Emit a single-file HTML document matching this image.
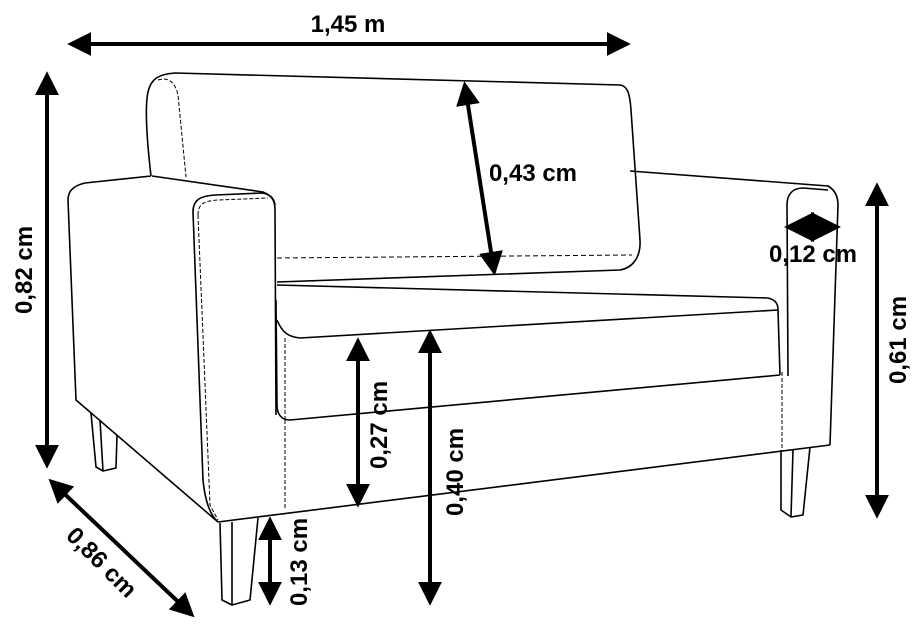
<!DOCTYPE html>
<html><head><meta charset="utf-8"><style>
html,body{margin:0;padding:0;background:#fff}
svg{display:block}
text{font-family:"Liberation Sans",sans-serif;font-size:24px;font-weight:bold;fill:#000}
</style></head><body>
<svg width="920" height="640" viewBox="0 0 920 640" xmlns="http://www.w3.org/2000/svg">
<defs>
<marker id="a" viewBox="0 0 10 10" refX="8" refY="5" markerWidth="6" markerHeight="6" orient="auto-start-reverse"><path d="M0,0 L10,5 L0,10 Z" fill="#000"/></marker>
</defs>
<g fill="none" stroke="#000" stroke-width="1.6" stroke-linejoin="round">
<path d="M151,176 C148,150 144,110 148,92 C151,78 160,74 175,73 L620,85 C628,86 630,95 631,110 L640,240 C641,258 632,268 620,270 L277,282"/>
<path d="M158,80 C170,76 176,85 178,95 L186,177" stroke-dasharray="4,2" stroke-width="1"/>
<path d="M277,258 L632,255" stroke-dasharray="5,3" stroke-width="1"/>
<path d="M151,176 L85,183 C72,186 68,192 68,200 L76,400 L218,522"/>
<path d="M152,176 L263,192 C272,196 275,200 275,210 L276,415"/>
<path d="M193,212 C193,200 200,196 215,195 L262,193 C270,194 274,198 275,205"/>
<path d="M193,212 L203,480 C205,500 210,515 218,522" />
<path d="M198,215 C198,203 205,201 218,200 L268,198" stroke-dasharray="4,2" stroke-width="1"/>
<path d="M198,215 L210,505 L218,520" stroke-dasharray="4,2" stroke-width="1"/>
<path d="M277,285 L768,298 C776,300 778,304 778,310 L780,375"/>
<path d="M277,320 C282,332 288,337 300,338 L778,310"/>
<path d="M276,300 L277,405 C277,415 282,420 290,420 L780,375"/>
<path d="M285,338 L285,420 M285,420 L285,510" stroke-dasharray="4,2" stroke-width="1"/>
<path d="M218,522 L830,445"/>
<path d="M782,372 L782,452" stroke-dasharray="4,2" stroke-width="1"/>
<path d="M630,171 L828,186 C835,190 838,196 838,205 L830,445"/>
<path d="M788,376 L787,205 C787,195 792,188 803,188 L828,190"/>
<path d="M220,523 L222,600 L232,605 L250,600 L258,518"/>
<path d="M232,522 L232,605"/>
<path d="M91,413 L96,467 L103,471 L116,468 L117,435"/>
<path d="M100,420 L103,471"/>
<path d="M781,450 L781,510 L791,517 L803,515 L810,447"/>
<path d="M793,450 L791,517"/>
</g>
<g stroke="#000" stroke-width="4" marker-start="url(#a)" marker-end="url(#a)">
<line x1="72" y1="44" x2="626" y2="44"/>
<line x1="47" y1="76" x2="47" y2="464"/>
<line x1="52" y1="482" x2="191" y2="614"/>
<line x1="465" y1="86" x2="494" y2="271"/>
<line x1="790" y1="227" x2="835" y2="227" stroke-width="5"/>
<line x1="877" y1="187" x2="877" y2="514"/>
<line x1="358" y1="342" x2="358" y2="503"/>
<line x1="430" y1="334" x2="430" y2="601"/>
<line x1="270" y1="521" x2="270" y2="601"/>
</g>
<text x="348" y="32" text-anchor="middle">1,45 m</text>
<text x="533" y="181" text-anchor="middle">0,43 cm</text>
<text x="813" y="262" text-anchor="middle">0,12 cm</text>
<text transform="translate(32,270) rotate(-90)" text-anchor="middle">0,82 cm</text>
<text transform="translate(906,340) rotate(-90)" text-anchor="middle">0,61 cm</text>
<text transform="translate(387,425) rotate(-90)" text-anchor="middle">0,27 cm</text>
<text transform="translate(463,472) rotate(-90)" text-anchor="middle">0,40 cm</text>
<text transform="translate(307,562) rotate(-90)" text-anchor="middle">0,13 cm</text>
<text transform="translate(96,568) rotate(45)" text-anchor="middle">0,86 cm</text>
</svg>
</body></html>
